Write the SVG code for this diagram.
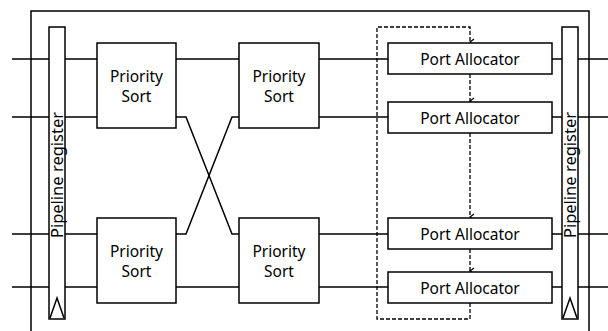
<svg xmlns="http://www.w3.org/2000/svg" width="608" height="331" viewBox="0 0 608 331">
<style>
.box{fill:#fff;stroke:#000;stroke-width:1.5}
.ln{fill:none;stroke:#000;stroke-width:1.5}
.dash{fill:none;stroke:#000;stroke-width:1.3;stroke-dasharray:4 2}
text{font-family:"Noto Sans","DejaVu Sans",sans-serif;font-size:15.5px;fill:#000;text-anchor:middle}
.vt{font-size:16.5px}
</style>
<defs>
<marker id="ah" markerWidth="8" markerHeight="6" refX="4" refY="5" orient="auto-start-reverse" markerUnits="userSpaceOnUse" viewBox="0 0 8 6">
<path d="M1,1 L4,5 L7,1" fill="none" stroke="#000" stroke-width="1.3"/>
</marker>
</defs>
<rect width="608" height="331" fill="#fff"/>
<g id="frame">
<path class="ln" d="M31,331 V11 H589 V331"/>
</g>
<g id="connectors">
<path class="ln" d="M12,59 H49 M65,59 H97 M12,117 H49 M65,117 H97 M12,234 H49 M65,234 H97 M12,287 H49 M65,287 H97"/>
<path class="ln" d="M176,59 H239 M176,287 H239"/>
<path class="ln" d="M176,117 H186 L232,234 H239"/>
<path class="ln" d="M176,234 H186 L232,117 H239"/>
<path class="ln" d="M319,59 H388 M319,117 H388 M319,234 H388 M319,287 H388"/>
<path class="ln" d="M552,59 H562 M578,59 H608 M552,117 H562 M578,117 H608 M552,234 H562 M578,234 H608 M552,287 H562 M578,287 H608"/>
<path class="dash" d="M470,303 V319 H377 V27 H470 V42" marker-end="url(#ah)"/>
<path class="dash" d="M470,74 V101" marker-end="url(#ah)"/>
<path class="dash" d="M470,133 V217" marker-end="url(#ah)"/>
<path class="dash" d="M470,249 V271" marker-end="url(#ah)"/>
</g>
<g id="preg-left">
<rect class="box" x="49" y="27" width="16" height="292"/>
<path class="ln" d="M50,318 L57,298 L64,318"/>
<text class="vt" transform="translate(63,175) rotate(-90)">Pipeline register</text>
</g>
<g id="ps1">
<rect class="box" x="97" y="43" width="79" height="85"/>
<text x="136.5" y="82">Priority</text>
<text x="136.5" y="102">Sort</text>
</g>
<g id="ps2">
<rect class="box" x="97" y="218" width="79" height="85"/>
<text x="136.5" y="257">Priority</text>
<text x="136.5" y="277">Sort</text>
</g>
<g id="ps3">
<rect class="box" x="239" y="43" width="80" height="85"/>
<text x="279" y="82">Priority</text>
<text x="279" y="102">Sort</text>
</g>
<g id="ps4">
<rect class="box" x="239" y="218" width="80" height="85"/>
<text x="279" y="257">Priority</text>
<text x="279" y="277">Sort</text>
</g>
<g id="pa1">
<rect class="box" x="388" y="43" width="164" height="31"/>
<text x="470" y="64.5">Port Allocator</text>
</g>
<g id="pa2">
<rect class="box" x="388" y="102" width="164" height="31"/>
<text x="470" y="123.5">Port Allocator</text>
</g>
<g id="pa3">
<rect class="box" x="388" y="218" width="164" height="31"/>
<text x="470" y="239.5">Port Allocator</text>
</g>
<g id="pa4">
<rect class="box" x="388" y="272" width="164" height="31"/>
<text x="470" y="293.5">Port Allocator</text>
</g>
<g id="preg-right">
<rect class="box" x="562" y="27" width="16" height="292"/>
<path class="ln" d="M563,318 L570,298 L577,318"/>
<text class="vt" transform="translate(576,175) rotate(-90)">Pipeline register</text>
</g>
</svg>
